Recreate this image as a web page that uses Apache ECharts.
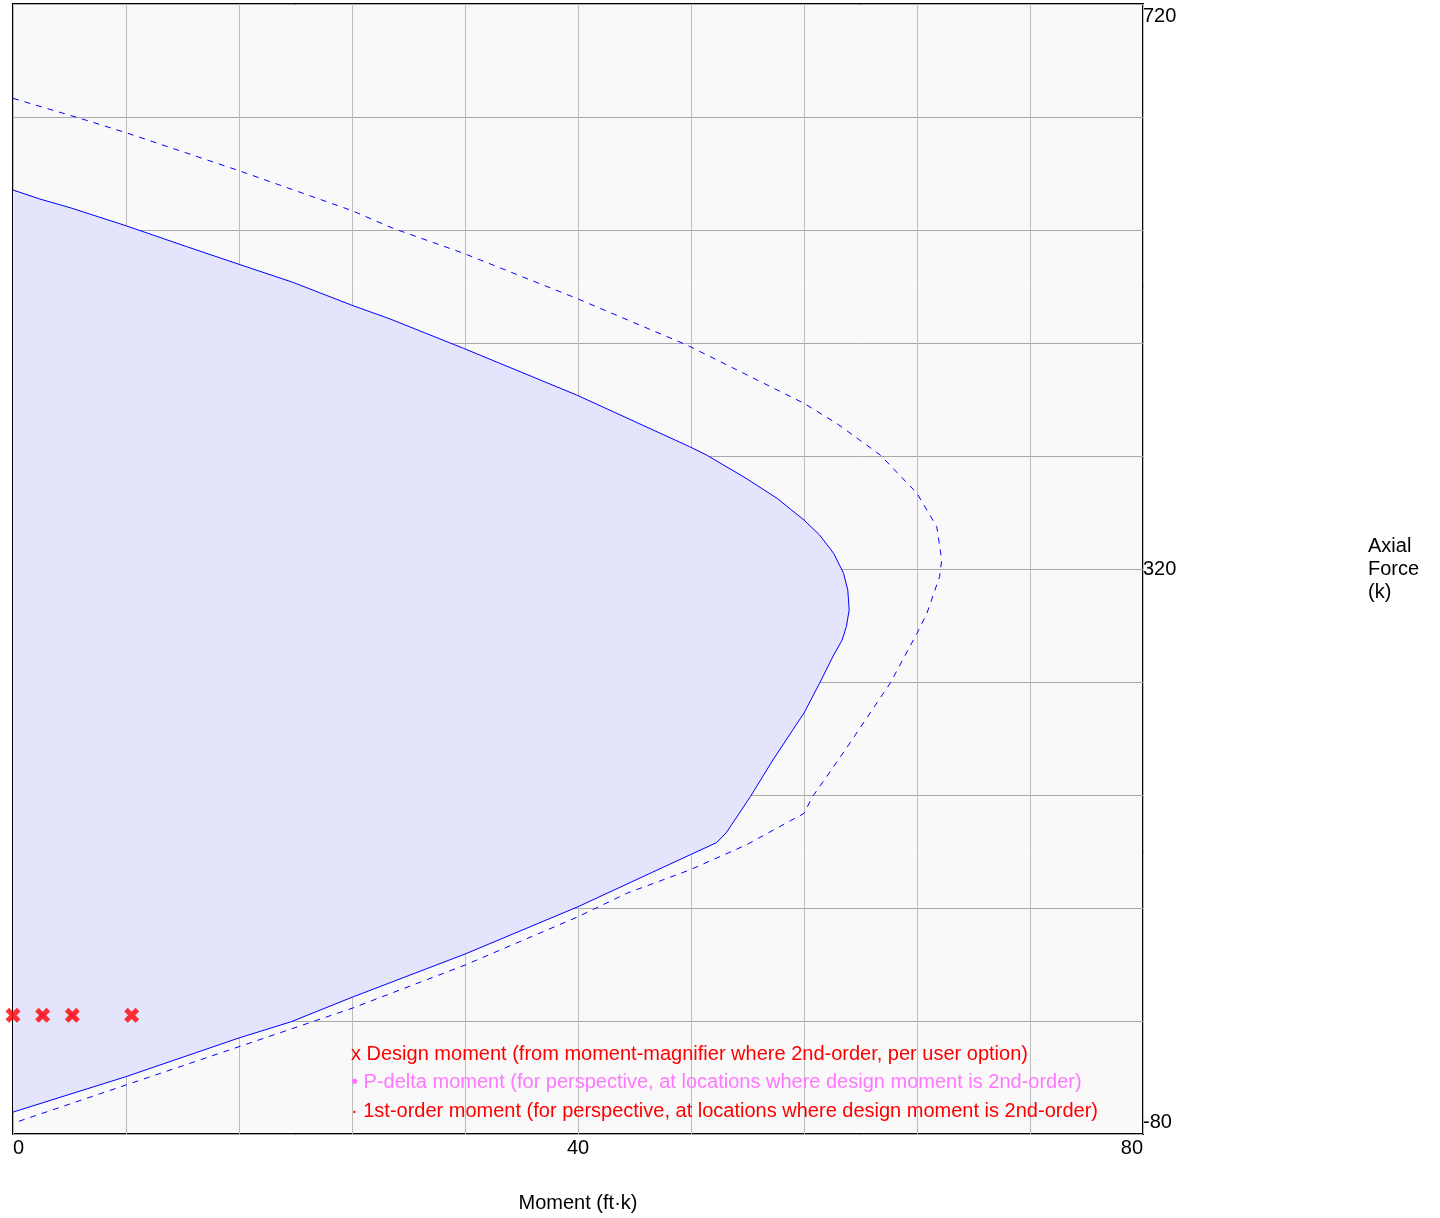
<!DOCTYPE html>
<html>
<head>
<meta charset="utf-8">
<script src="https://cdn.jsdelivr.net/npm/echarts@6/dist/echarts.min.js"></script>
<style>
html,body{margin:0;padding:0;background:#fff;}
#c{width:1440px;height:1218px;}
</style>
</head>
<body>
<div id="c"></div>
<script>
// Design strength curve (M ft·k, P k) — solid, filled
const designCurve = [
  [0, 588.3], [1.91, 581.9], [4.04, 575.8], [8.0, 563.0], [12.3, 548.2],
  [16.0, 535.7], [19.8, 523.0], [24.0, 506.7], [26.7, 497.0], [31.9, 476.2],
  [39.9, 443.2], [47.9, 406.6], [49.1, 400.7], [51.9, 384.2], [54.1, 370.0],
  [56.0, 354.7], [57.1, 344.1], [58.1, 331.1], [58.8, 317.0], [59.1, 305.1],
  [59.2, 291.0], [59.0, 279.2], [58.7, 269.7], [58.1, 259.1], [57.1, 239.1],
  [56.0, 218.0], [55.2, 206.0], [53.8, 184.8], [52.2, 158.8], [50.5, 133.3],
  [49.8, 126.2], [47.9, 117.5], [40.0, 80.9], [32.0, 47.4], [24.0, 16.8],
  [19.7, -0.5], [16.0, -12.0], [8.0, -39.4], [0, -64.5]
];
// Nominal strength curve — dashed
const nominalCurve = [
  [0, 653.2], [4.74, 639.1], [8.0, 628.9], [16.0, 602.0], [24.0, 573.7],
  [26.9, 561.2], [31.9, 543.5], [39.9, 511.6], [47.7, 478.6], [56.0, 437.3],
  [58.3, 423.2], [61.4, 400.7], [64.0, 373.6], [65.4, 349.9], [65.75, 326.4],
  [65.6, 314.6], [64.7, 288.6], [64.0, 274.5], [62.1, 239.1], [60.5, 215.4],
  [59.0, 193.1], [57.6, 173.0], [56.6, 158.8], [56.0, 147.0], [51.9, 124.6],
  [47.9, 106.9], [43.45, 90.4], [40.0, 73.8], [32.0, 39.6], [24.0, 9.0],
  [16.0, -18.2], [8.0, -45.3], [0, -72.4]
];
// Demand points
const designMoments = [[0, 4], [2.1, 4], [4.2, 4], [8.4, 4]];
const pDeltaMoments = [[2.1, 4], [4.2, 4]];
const firstOrderMoments = [[2.0, 4], [4.1, 4]];

const xLabels = [0, 40, 80];
const yLabels = [-80, 320, 720];
const legendLines = [
  'x Design moment (from moment-magnifier where 2nd-order, per user option)',
  '• P-delta moment (for perspective, at locations where design moment is 2nd-order)',
  '· 1st-order moment (for perspective, at locations where design moment is 2nd-order)'
];

const FONT = '"Liberation Sans", Arial, sans-serif';
const xMark = 'path://M0,2.4 L2.4,0 L5,2.6 L7.6,0 L10,2.4 L7.4,5 L10,7.6 L7.6,10 L5,7.4 L2.4,10 L0,7.6 L2.6,5 Z';

const chart = echarts.init(document.getElementById('c'));
chart.setOption({
  animation: false,
  textStyle: { fontFamily: FONT },
  grid: {
    left: 13, top: 4, width: 1130, height: 1130,
    show: true, backgroundColor: '#f9f9f9', borderColor: '#000', borderWidth: 2
  },
  xAxis: {
    type: 'value', min: 0, max: 80, interval: 8,
    axisLine: { show: false }, axisTick: { show: false },
    splitLine: { show: true, lineStyle: { color: '#bdbdbd', width: 1 } },
    axisLabel: {
      color: '#000', fontSize: 20, fontFamily: FONT, margin: 3, lineHeight: 22,
      alignMinLabel: 'left', alignMaxLabel: 'right',
      formatter: v => xLabels.includes(v) ? String(v) : ''
    },
    name: 'Moment (ft·k)', nameLocation: 'middle', nameGap: 59,
    nameTextStyle: { color: '#000', fontSize: 20, fontFamily: FONT }
  },
  yAxis: {
    type: 'value', position: 'right', min: -80, max: 720, interval: 80,
    axisLine: { show: false }, axisTick: { show: false },
    splitLine: { show: true, lineStyle: { color: '#a8a8a8', width: 1 } },
    axisLabel: {
      color: '#000', fontSize: 20, fontFamily: FONT, margin: 0, lineHeight: 24,
      verticalAlignMinLabel: 'bottom', verticalAlignMaxLabel: 'top',
      formatter: v => yLabels.includes(v) ? String(v) : ''
    },
    name: 'Axial\nForce\n(k)', nameLocation: 'middle', nameGap: 225, nameRotate: 0,
    nameTextStyle: { color: '#000', fontSize: 20, fontFamily: FONT, align: 'left', lineHeight: 23 }
  },
  graphic: legendLines.map((t, i) => ({
    type: 'text', left: 351, top: 1044 + i * 28.5, z: 100,
    style: { text: t, fontSize: 20, fontFamily: FONT, fill: i === 1 ? '#ff77ff' : '#ff0000' }
  })),
  series: [
    {
      type: 'custom', data: designCurve, z: 1, silent: true,
      renderItem: (params, api) => {
        if (params.dataIndex !== 0) return null;
        const pts = designCurve.map(p => api.coord(p));
        return { type: 'polygon', shape: { points: pts }, style: { fill: '#e4e4fc', stroke: 'none' } };
      }
    },
    {
      type: 'line', data: designCurve, symbol: 'none', z: 3,
      lineStyle: { color: '#0000ff', width: 1 }
    },
    {
      type: 'line', data: nominalCurve, symbol: 'none', z: 3,
      lineStyle: { color: '#0000ff', width: 1, type: [6, 6] }
    },
    {
      type: 'scatter', data: firstOrderMoments, symbol: 'circle', symbolSize: 3, z: 4,
      itemStyle: { color: '#ff0000' }
    },
    {
      type: 'scatter', data: pDeltaMoments, symbol: 'circle', symbolSize: 6, z: 5,
      itemStyle: { color: '#ff77ff' }
    },
    {
      type: 'scatter', data: designMoments, symbol: xMark, symbolSize: 15, z: 6,
      itemStyle: { color: '#ff0000' }
    }
  ]
});
</script>
</body>
</html>
